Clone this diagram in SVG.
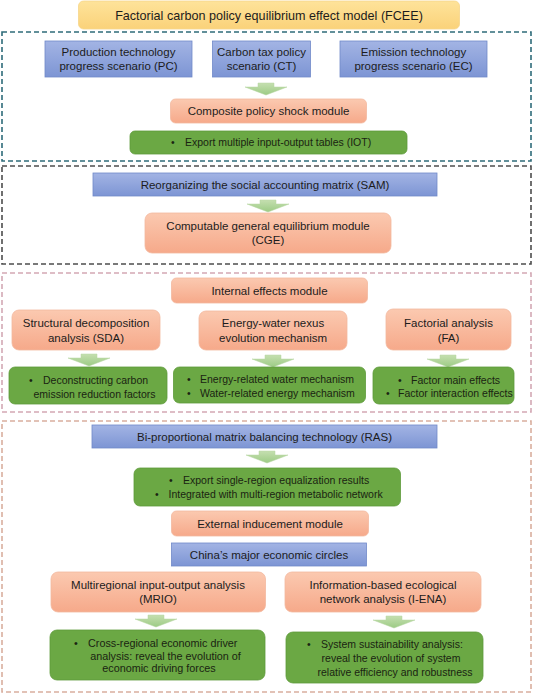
<svg xmlns="http://www.w3.org/2000/svg" width="534" height="694" viewBox="0 0 534 694">
<defs>
<linearGradient id="gBlue" x1="0" y1="0" x2="0" y2="1"><stop offset="0" stop-color="#A3B4E4"/><stop offset="1" stop-color="#7D95D4"/></linearGradient>
<linearGradient id="gOr" x1="0" y1="0" x2="0" y2="1"><stop offset="0" stop-color="#FBC9B0"/><stop offset="1" stop-color="#F6A98A"/></linearGradient>
<linearGradient id="gYel" x1="0" y1="0" x2="0" y2="1"><stop offset="0" stop-color="#FEE39A"/><stop offset="1" stop-color="#FAD27A"/></linearGradient>
<linearGradient id="gArr" x1="0" y1="0" x2="0" y2="1"><stop offset="0" stop-color="#C5DFB0"/><stop offset="1" stop-color="#9CCB84"/></linearGradient>
<symbol id="arrow" viewBox="0 0 42 12" overflow="visible"><path d="M13 0 H29 V4 H42 L21 12 L0 4 H13 Z" fill="url(#gArr)" stroke="#B5D4A0" stroke-width="0.5"/></symbol>
</defs>
<style>
text{font-family:"Liberation Sans",Arial,sans-serif;font-size:11.5px;fill:#1c1c1c;text-anchor:middle}
.l{text-anchor:start}
.blue{fill:url(#gBlue);stroke:#7089C9;stroke-width:0.8}
.or{fill:url(#gOr);stroke:#F3B9A0;stroke-width:0.8}
.gr{fill:#6BA844;stroke:#5E9A3B;stroke-width:0.8}
.gt{fill:#1a2412;font-size:10.5px}
.big{font-size:10.8px}
.sec{fill:none;stroke-width:1.6;stroke-dasharray:5 3}
</style>
<rect width="534" height="694" fill="#ffffff"/>

<g id="sections">
<rect class="sec" x="2" y="32" width="529" height="129" stroke="#2F6C7A"/>
<rect class="sec" x="2" y="166" width="529" height="98" stroke="#4D4D4D"/>
<rect class="sec" x="2" y="273" width="529" height="139" stroke="#D3A8B4" stroke-width="1.2"/>
<rect class="sec" x="2" y="421" width="529" height="271" stroke="#D9AE9E" stroke-width="1.2"/>
</g>

<g id="connectors">
<use href="#arrow" x="245" y="83" width="42" height="12"/>
<use href="#arrow" x="247" y="200" width="42" height="12"/>
<use href="#arrow" x="68" y="354" width="42" height="12"/>
<use href="#arrow" x="252" y="355" width="42" height="12"/>
<use href="#arrow" x="427" y="355" width="42" height="12"/>
<use href="#arrow" x="246" y="451" width="42" height="12"/>
<use href="#arrow" x="135" y="615" width="42" height="12"/>
<use href="#arrow" x="373" y="616" width="42" height="12"/>
</g>

<g id="fcee"><rect x="78.5" y="1" width="381" height="28" rx="5" fill="url(#gYel)" stroke="#F6D58A" stroke-width="0.8"/><text x="269" y="19.5" style="font-size:12.6px">Factorial carbon policy equilibrium effect model (FCEE)</text></g>

<g id="pc"><rect class="blue" x="45" y="41" width="147" height="36"/><text x="118.5" y="56">Production technology</text><text x="118.5" y="70">progress scenario (PC)</text></g>
<g id="ct"><rect class="blue" x="212.5" y="41" width="98" height="36"/><text x="261.5" y="56">Carbon tax policy</text><text x="261.5" y="70">scenario (CT)</text></g>
<g id="ec"><rect class="blue" x="340" y="41" width="147" height="36"/><text x="413.5" y="56">Emission technology</text><text x="413.5" y="70">progress scenario (EC)</text></g>
<g id="composite"><rect class="or" x="170.5" y="99" width="196" height="24" rx="5"/><text x="268.5" y="115">Composite policy shock module</text></g>
<g id="iot"><rect class="gr" x="130" y="131" width="277" height="23" rx="5"/><text class="gt l" x="171" y="146"><tspan>•</tspan><tspan x="185">Export multiple input-output tables (IOT)</tspan></text></g>

<g id="sam"><rect class="blue" x="93" y="173" width="344" height="23"/><text x="265" y="188.5">Reorganizing the social accounting matrix (SAM)</text></g>
<g id="cge"><rect class="or" x="145" y="213" width="246" height="40" rx="7"/><text x="268" y="230">Computable general equilibrium module</text><text x="268" y="244">(CGE)</text></g>

<g id="internal"><rect class="or" x="171.5" y="278" width="196" height="25" rx="5"/><text x="269.5" y="294.5">Internal effects module</text></g>
<g id="sda"><rect class="or" x="12" y="310" width="148" height="40" rx="7"/><text x="86" y="327">Structural decomposition</text><text x="86" y="342">analysis (SDA)</text></g>
<g id="nexus"><rect class="or" x="199" y="311" width="148" height="39" rx="7"/><text x="273" y="327">Energy-water nexus</text><text x="273" y="342">evolution mechanism</text></g>
<g id="fa"><rect class="or" x="386" y="309" width="125" height="41" rx="7"/><text x="448.5" y="327">Factorial analysis</text><text x="448.5" y="342">(FA)</text></g>

<g id="sda-out"><rect class="gr" x="9" y="367" width="158" height="37" rx="6"/><text class="gt l" x="29" y="384"><tspan>•</tspan><tspan x="43">Deconstructing carbon</tspan></text><text class="gt" x="94.5" y="397.5">emission reduction factors</text></g>
<g id="nexus-out"><rect class="gr" x="173.5" y="367" width="192" height="36" rx="6"/><text class="gt l" x="187" y="383"><tspan>•</tspan><tspan x="200">Energy-related water mechanism</tspan></text><text class="gt l" x="187" y="397"><tspan>•</tspan><tspan x="200">Water-related energy mechanism</tspan></text></g>
<g id="fa-out"><rect class="gr" x="373" y="367" width="141" height="37" rx="6"/><text class="gt l" x="398" y="384"><tspan>•</tspan><tspan x="411">Factor main effects</tspan></text><text class="gt l" x="386" y="397"><tspan>•</tspan><tspan x="398">Factor interaction effects</tspan></text></g>

<g id="ras"><rect class="blue" x="92" y="425" width="345" height="23"/><text x="264.5" y="440.5">Bi-proportional matrix balancing technology (RAS)</text></g>
<g id="export"><rect class="gr" x="134" y="468" width="266.5" height="38" rx="6"/><text class="gt l" x="169" y="484"><tspan>•</tspan><tspan x="183">Export single-region equalization results</tspan></text><text class="gt l" x="155" y="498"><tspan>•</tspan><tspan x="168.5">Integrated with multi-region metabolic network</tspan></text></g>
<g id="external"><rect class="or" x="171.5" y="511" width="197" height="25" rx="5"/><text x="270" y="528">External inducement module</text></g>
<g id="circles"><rect class="blue" x="171.5" y="543" width="195" height="23"/><text x="269" y="558.5">China’s major economic circles</text></g>
<g id="mrio"><rect class="or" x="51" y="572" width="214.5" height="40" rx="7"/><text x="158" y="588.5">Multiregional input-output analysis</text><text x="158" y="603">(MRIO)</text></g>
<g id="iena"><rect class="or" x="285" y="572" width="196" height="40" rx="7"/><text x="383" y="588.5">Information-based ecological</text><text x="383" y="603">network analysis (I-ENA)</text></g>
<g id="mrio-out"><rect class="gr" x="50" y="630" width="215" height="50" rx="7"/><text class="gt big l" x="74" y="647"><tspan>•</tspan><tspan x="88">Cross-regional economic driver</tspan></text><text class="gt big" x="165.5" y="659.5">analysis: reveal the evolution of</text><text class="gt big" x="159" y="672">economic driving forces</text></g>
<g id="iena-out"><rect class="gr" x="286" y="632" width="197" height="51" rx="7"/><text class="gt l" x="307" y="648"><tspan>•</tspan><tspan x="321">System sustainability analysis:</tspan></text><text class="gt" x="391" y="662">reveal the evolution of system</text><text class="gt" x="395" y="676">relative efficiency and robustness</text></g>
</svg>
